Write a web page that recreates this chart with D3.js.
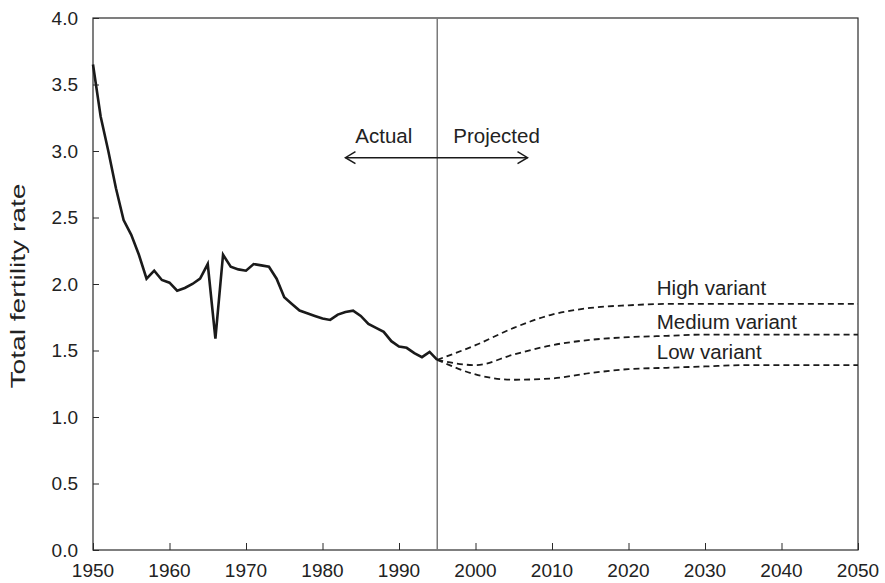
<!DOCTYPE html>
<html>
<head>
<meta charset="utf-8">
<script src="https://cdn.jsdelivr.net/npm/d3@7/dist/d3.min.js"></script>
<style>
  html, body { margin: 0; padding: 0; background: #fff; }
  svg { display: block; font-family: "Liberation Sans", Arial, Helvetica, sans-serif; }
</style>
</head>
<body>
<svg id="chart" width="885" height="583"></svg>
<script>
// ---- Data ----
const actualYears = [1950,1951,1952,1953,1954,1955,1956,1957,1958,1959,
  1960,1961,1962,1963,1964,1965,1966,1967,1968,1969,
  1970,1971,1972,1973,1974,1975,1976,1977,1978,1979,
  1980,1981,1982,1983,1984,1985,1986,1987,1988,1989,
  1990,1991,1992,1993,1994,1995];
const actualTFR = [3.65,3.26,3.00,2.72,2.48,2.37,2.22,2.04,2.10,2.03,
  2.01,1.95,1.97,2.00,2.04,2.15,1.59,2.22,2.13,2.11,
  2.10,2.15,2.14,2.13,2.04,1.90,1.85,1.80,1.78,1.76,
  1.74,1.73,1.77,1.79,1.80,1.76,1.70,1.67,1.64,1.57,
  1.53,1.52,1.48,1.45,1.49,1.43];

const projYears = [1995,2000,2005,2010,2015,2020,2025,2030,2035,2040,2045,2050];
const highTFR   = [1.43,1.54,1.67,1.77,1.82,1.84,1.85,1.85,1.85,1.85,1.85,1.85];
const mediumTFR = [1.43,1.39,1.47,1.54,1.58,1.60,1.61,1.62,1.62,1.62,1.62,1.62];
const lowTFR    = [1.43,1.32,1.28,1.29,1.33,1.36,1.37,1.38,1.39,1.39,1.39,1.39];

const variantNames = ["High variant","Medium variant","Low variant"];
const variantLabelYear = 2023.7;
const variantLabelTFR = [1.92,1.66,1.435];

const xTicks = [1950,1960,1970,1980,1990,2000,2010,2020,2030,2040,2050];
const yTicks = [0,0.5,1.0,1.5,2.0,2.5,3.0,3.5,4.0];
const dividerYear = 1995;
const arrowFrom = 1983, arrowTo = 2006.8, arrowTFR = 2.95;
const actualLabel = "Actual", projectedLabel = "Projected";
const yTitle = "Total fertility rate";

// ---- Layout ----
const W = 885, H = 583;
const m = {left: 93, right: 27, top: 18, bottom: 33};
const svg = d3.select("#chart");
const x = d3.scaleLinear().domain([1950, 2050]).range([m.left, W - m.right]);
const y = d3.scaleLinear().domain([0, 4]).range([H - m.bottom, m.top]);
const textColor = "#222";

// frame
svg.append("rect")
  .attr("x", x(1950)).attr("y", y(4))
  .attr("width", x(2050) - x(1950)).attr("height", y(0) - y(4))
  .attr("fill", "none").attr("stroke", "#2a2a2a").attr("stroke-width", 1.2);

// y axis ticks (inward)
const yAxis = d3.axisRight(y).tickValues(yTicks).tickSize(6).tickFormat("");
svg.append("g").attr("transform", `translate(${x(1950)},0)`).call(yAxis)
  .call(g => g.select(".domain").remove())
  .call(g => g.selectAll("line").attr("stroke", "#2a2a2a"));
svg.append("g").selectAll("text").data(yTicks).join("text")
  .attr("x", x(1950) - 15).attr("y", d => y(d)).attr("dy", "0.36em")
  .attr("text-anchor", "end").attr("font-size", 19).attr("fill", textColor)
  .text(d => d3.format(".1f")(d));

// x axis ticks (inward)
const xAxis = d3.axisTop(x).tickValues(xTicks).tickSize(7).tickFormat("");
svg.append("g").attr("transform", `translate(0,${y(0)})`).call(xAxis)
  .call(g => g.select(".domain").remove())
  .call(g => g.selectAll("line").attr("stroke", "#2a2a2a"));
svg.append("g").selectAll("text").data(xTicks).join("text")
  .attr("x", d => x(d)).attr("y", y(0) + 27)
  .attr("text-anchor", "middle").attr("font-size", 19).attr("fill", textColor)
  .text(d => d);

// y title
svg.append("text")
  .attr("transform", `translate(25,${(y(0) + y(4)) / 2 + 2}) rotate(-90)`)
  .attr("text-anchor", "middle").attr("font-size", 20).attr("fill", textColor)
  .attr("textLength", 205).attr("lengthAdjust", "spacingAndGlyphs")
  .text(yTitle);

// divider line
svg.append("line")
  .attr("x1", x(dividerYear)).attr("x2", x(dividerYear))
  .attr("y1", y(4)).attr("y2", y(0))
  .attr("stroke", "#7a7a7a").attr("stroke-width", 1.5);

// arrow
const ay = y(arrowTFR);
svg.append("line").attr("x1", x(arrowFrom)).attr("x2", x(arrowTo))
  .attr("y1", ay).attr("y2", ay).attr("stroke", "#1a1a1a").attr("stroke-width", 1.5);
svg.append("path")
  .attr("d", `M${x(arrowFrom) + 10},${ay - 6}L${x(arrowFrom)},${ay}L${x(arrowFrom) + 10},${ay + 6}`)
  .attr("fill", "none").attr("stroke", "#1a1a1a").attr("stroke-width", 1.5);
svg.append("path")
  .attr("d", `M${x(arrowTo) - 10},${ay - 6}L${x(arrowTo)},${ay}L${x(arrowTo) - 10},${ay + 6}`)
  .attr("fill", "none").attr("stroke", "#1a1a1a").attr("stroke-width", 1.5);
svg.append("text").attr("x", x(dividerYear) - 25).attr("y", ay - 15)
  .attr("text-anchor", "end").attr("font-size", 20.5).attr("fill", textColor).text(actualLabel);
svg.append("text").attr("x", x(dividerYear) + 16).attr("y", ay - 15)
  .attr("text-anchor", "start").attr("font-size", 20.5).attr("fill", textColor).text(projectedLabel);

// actual line
const actualData = actualYears.map((yr, i) => [yr, actualTFR[i]]);
svg.append("path").datum(actualData)
  .attr("d", d3.line().x(d => x(d[0])).y(d => y(d[1])))
  .attr("fill", "none").attr("stroke", "#1a1a1a").attr("stroke-width", 2.6)
  .attr("stroke-linejoin", "miter");

// projections
const projLine = d3.line().x(d => x(d[0])).y(d => y(d[1])).curve(d3.curveMonotoneX);
[highTFR, mediumTFR, lowTFR].forEach(vals => {
  svg.append("path").datum(projYears.map((yr, i) => [yr, vals[i]]))
    .attr("d", projLine)
    .attr("fill", "none").attr("stroke", "#1a1a1a").attr("stroke-width", 1.8)
    .attr("stroke-dasharray", "6,4");
});

// variant labels
svg.append("g").selectAll("text").data(variantNames).join("text")
  .attr("x", x(variantLabelYear)).attr("y", (d, i) => y(variantLabelTFR[i]))
  .attr("font-size", 20.5).attr("fill", textColor)
  .text(d => d);
</script>
</body>
</html>
